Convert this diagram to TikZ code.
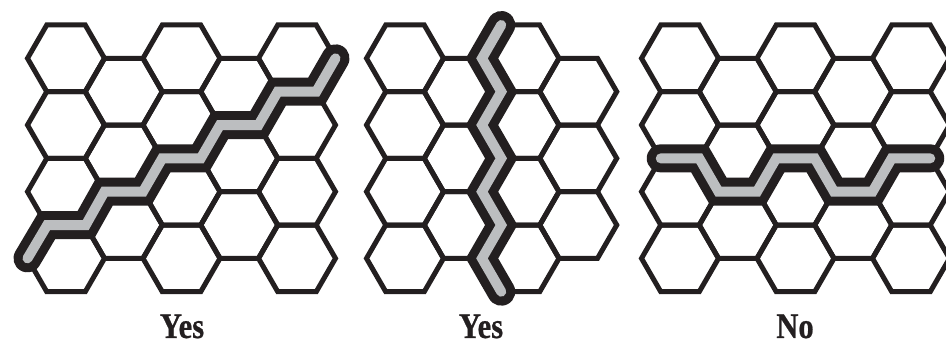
\documentclass[tikz,border=0pt]{standalone}
\usepackage{fontspec}
\newfontfamily\lblfont[FakeStretch=0.85,FakeBold=0.6]{Liberation Serif}
\definecolor{ink}{RGB}{35,31,32}
\definecolor{pathgray}{RGB}{188,190,192}
\tikzset{
  hexline/.style={draw=ink, line width=5pt, line join=miter},
  routeouter/.style={draw=ink, line width=28pt, line cap=round, line join=miter},
  routeinner/.style={draw=pathgray, line width=10pt, line cap=round, line join=miter},
  verdict/.style={font=\lblfont\bfseries\fontsize{36}{40}\selectfont, text=ink, anchor=base, inner sep=0pt}
}
\newcommand{\hexat}[2]{\draw[hexline] (#1,#2) ++(38.5,0) -- ++(-19.25,33.34) -- ++(-38.5,0) -- ++(-19.25,-33.34) -- ++(19.25,-33.34) -- ++(38.5,0) -- cycle;}
\newcommand{\routeA}{(27.5,258.38) -- (47.25,225.04) -- (85.75,225.04) -- (104.5,191.7) -- (143,191.7) -- (162.25,158.36) -- (200.75,158.36) -- (220,125.02) -- (258.5,125.02) -- (277.75,91.68) -- (316.25,91.68) -- (335.5,58.34)}
\newcommand{\routeB}{(501.25,25) -- (482,58.34) -- (501.25,91.68) -- (482,125.02) -- (501.25,158.36) -- (482,191.7) -- (501.25,225.04) -- (482,258.38) -- (501.25,291.72)}
\newcommand{\routeC}{(660.75,158.36) -- (699.25,158.36) -- (718.5,191.7) -- (757,191.7) -- (776.25,158.36) -- (814.75,158.36) -- (834,191.7) -- (872.5,191.7) -- (891.75,158.36) -- (930.25,158.36)}
\begin{document}
\begin{tikzpicture}[x=1pt, y=-1pt]
  \useasboundingbox (0,0) rectangle (946,344);
  \fill[white] (0,0) rectangle (946,344);
  \begin{scope}
    \clip (0,0) rectangle (946,344);
    \foreach \px/\nc in {66/4, 405/3, 680/4} {
      \foreach \c in {0,...,\nc} {
        \pgfmathsetmacro{\cx}{\px+57.75*\c}
        \pgfmathtruncatemacro{\odd}{mod(\c,2)}
        \ifnum\odd=0
          \foreach \k in {0,...,3} {\pgfmathsetmacro{\cy}{58.34+66.68*\k}\hexat{\cx}{\cy}}
        \else
          \foreach \k in {0,...,2} {\pgfmathsetmacro{\cy}{91.68+66.68*\k}\hexat{\cx}{\cy}}
        \fi
      }
    }
    \draw[routeouter] \routeA;
    \draw[routeinner] \routeA;
    \draw[routeouter] \routeB;
    \draw[routeinner] \routeB;
    \draw[routeouter] \routeC;
    \draw[routeinner] \routeC;
  \end{scope}
  \node[verdict] (verdictA) at (182,338) {Yes};
  \node[verdict] (verdictB) at (481,338) {Yes};
  \node[verdict] (verdictC) at (795,338) {No};
\end{tikzpicture}
\end{document}
